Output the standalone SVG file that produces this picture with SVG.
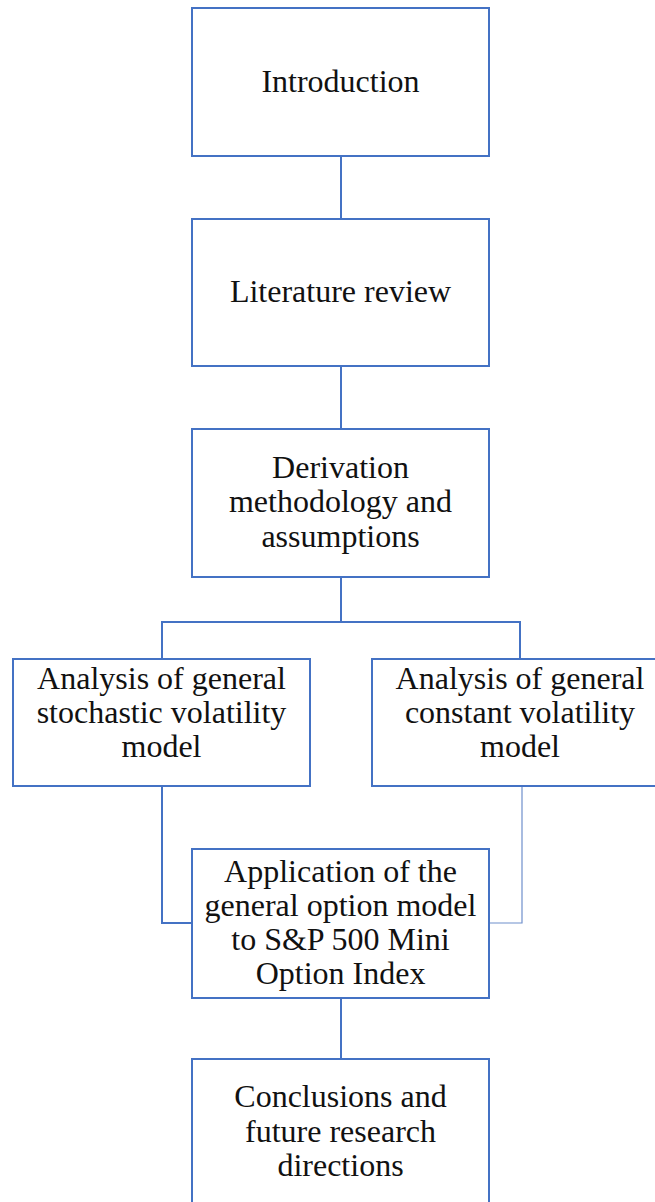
<svg xmlns="http://www.w3.org/2000/svg" width="655" height="1202" viewBox="0 0 655 1202">
<style>
.box{fill:#fff;stroke:#4472C4;stroke-width:2}
.con{fill:none;stroke:#4472C4;stroke-width:2}
.thin{fill:none;stroke:#6f8fcc;stroke-width:1.2}
text{font-family:"Liberation Serif","Times New Roman",serif;font-size:32px;fill:#111;text-anchor:middle}
</style>
<rect width="655" height="1202" fill="#fff"/>
<g id="connectors">
<line class="con" x1="341" y1="156" x2="341" y2="219"/>
<line class="con" x1="341" y1="366" x2="341" y2="429"/>
<polyline class="con" points="341,577 341,622"/>
<polyline class="con" points="162,659 162,622 520,622 520,659"/>
<polyline class="con" points="162,786 162,923 192,923"/>
<polyline class="thin" points="522,786 522,923 489,923"/>
<line class="con" x1="341" y1="998" x2="341" y2="1059"/>
</g>
<g id="intro">
<rect class="box" x="192" y="8" width="297" height="148"/>
<text x="340.5" y="92">Introduction</text>
</g>
<g id="lit">
<rect class="box" x="192" y="219" width="297" height="147"/>
<text x="340.5" y="302">Literature review</text>
</g>
<g id="deriv">
<rect class="box" x="192" y="429" width="297" height="148"/>
<text x="340.5" y="478">Derivation</text>
<text x="340.5" y="512">methodology and</text>
<text x="340.5" y="547">assumptions</text>
</g>
<g id="stoch">
<rect class="box" x="13" y="659" width="297" height="127"/>
<text x="161.5" y="689">Analysis of general</text>
<text x="161.5" y="723">stochastic volatility</text>
<text x="161.5" y="757">model</text>
</g>
<g id="const">
<rect class="box" x="372" y="659" width="297" height="127"/>
<text x="520" y="689">Analysis of general</text>
<text x="520" y="723">constant volatility</text>
<text x="520" y="757">model</text>
</g>
<g id="app">
<rect class="box" x="192" y="849" width="297" height="149"/>
<text x="340.5" y="882">Application of the</text>
<text x="340.5" y="916">general option model</text>
<text x="340.5" y="950">to S&amp;P 500 Mini</text>
<text x="340.5" y="984">Option Index</text>
</g>
<g id="concl">
<rect class="box" x="192" y="1059" width="297" height="160"/>
<text x="340.5" y="1107">Conclusions and</text>
<text x="340.5" y="1142">future research</text>
<text x="340.5" y="1176">directions</text>
</g>
</svg>
